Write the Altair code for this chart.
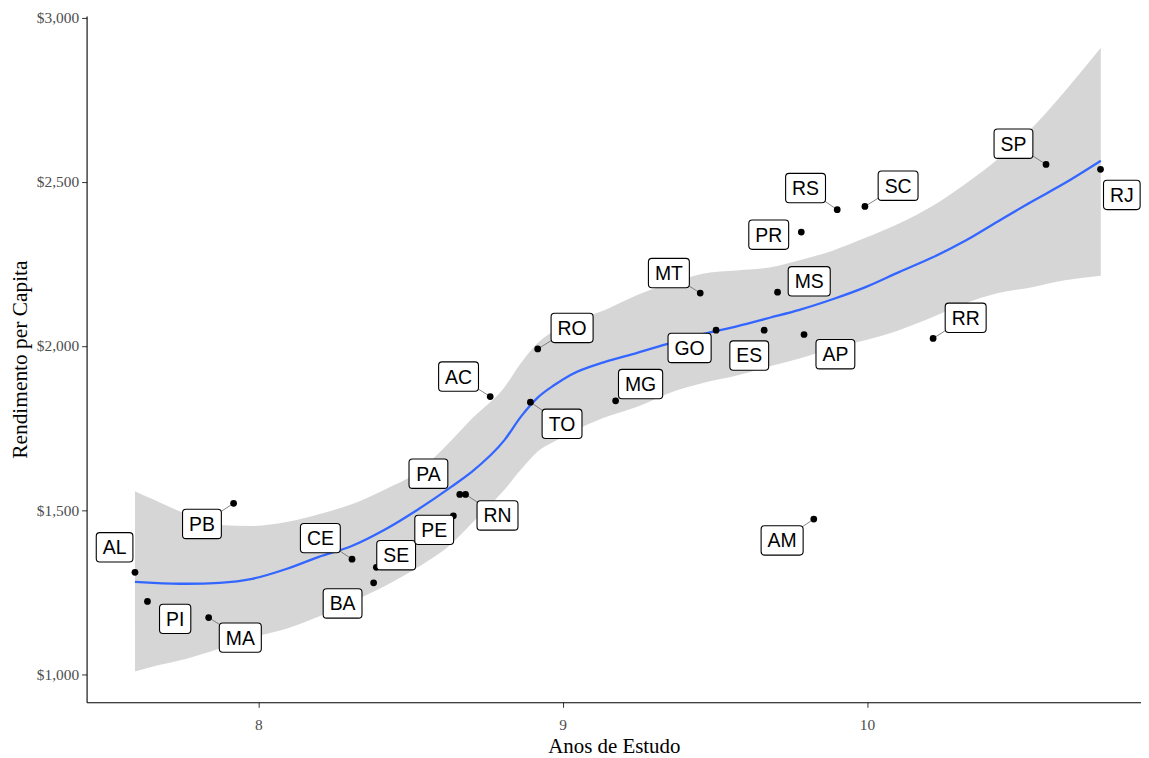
import altair as alt
import pandas as pd

# ---- data ----
states = ["AL", "PI", "MA", "PB", "CE", "BA", "SE", "PE", "PA", "RN", "AC", "TO", "RO",
          "MG", "MT", "GO", "ES", "MS", "AP", "PR", "RS", "SC", "SP", "RJ", "RR", "AM"]
anos = [7.595, 7.636, 7.837, 7.919, 8.308, 8.379, 8.388, 8.641, 8.662, 8.681, 8.762, 8.894, 8.918,
        9.174, 9.452, 9.504, 9.662, 9.706, 9.793, 9.784, 9.902, 9.993, 10.588, 10.767, 10.217, 9.825]
renda = [1311, 1222, 1173, 1521, 1351, 1279, 1326, 1483, 1548, 1548, 1846, 1829, 1991,
         1833, 2161, 2048, 2048, 2164, 2035, 2347, 2415, 2425, 2553, 2538, 2023, 1473]
# repelled label anchors (data units)
label_x = [7.528, 7.727, 7.941, 7.815, 8.204, 8.277, 8.453, 8.578, 8.559, 8.786, 8.658, 8.998, 9.031,
           9.256, 9.349, 9.417, 9.613, 9.810, 9.896, 9.677, 9.798, 10.102, 10.481, 10.837, 10.324, 9.721]
label_y = [1387, 1169, 1112, 1458, 1415, 1216, 1363, 1440, 1611, 1484, 1907, 1763, 2055,
           1884, 2222, 1994, 1971, 2197, 1975, 2339, 2481, 2488, 2616, 2460, 2086, 1408]
with_segment = ["PB", "MA", "CE", "RN", "AC", "TO", "RO", "MT", "RS", "SC", "SP", "RR", "AM"]

# loess fit and confidence band
fit_x = [7.595, 7.654, 7.765, 7.873, 7.980, 8.092, 8.199, 8.307, 8.418, 8.526, 8.634, 8.699, 8.810,
         8.863, 8.918, 8.974, 9.026, 9.137, 9.245, 9.353, 9.464, 9.572, 9.680, 9.778, 9.889, 9.997,
         10.105, 10.216, 10.324, 10.431, 10.542, 10.650, 10.768]
fit_y = [1282, 1279, 1276, 1279, 1291, 1321, 1358, 1391, 1442, 1503, 1571, 1615, 1715,
         1785, 1843, 1882, 1912, 1951, 1979, 2009, 2037, 2060, 2086, 2110, 2143, 2180,
         2225, 2270, 2321, 2380, 2440, 2496, 2564]
fit_hi = [1558, 1533, 1488, 1455, 1452, 1464, 1488, 1518, 1564, 1618, 1712, 1776, 1876,
          1948, 2009, 2048, 2073, 2109, 2155, 2191, 2221, 2230, 2239, 2261, 2291, 2330,
          2373, 2427, 2494, 2570, 2664, 2776, 2908]
fit_lo = [1009, 1024, 1048, 1079, 1112, 1139, 1176, 1221, 1270, 1327, 1397, 1458, 1564,
          1624, 1679, 1710, 1736, 1782, 1815, 1858, 1888, 1910, 1938, 1962, 1994, 2018,
          2048, 2088, 2130, 2161, 2179, 2200, 2214]

x_ticks = [8, 9, 10]
y_ticks = [1000, 1500, 2000, 2500, 3000]

# ---- styling helpers ----
FONT_SIZE = 19.5
CHAR_W = {"A": .667, "B": .667, "C": .722, "D": .722, "E": .667, "G": .778, "I": .278,
          "J": .5, "L": .556, "M": .833, "N": .722, "O": .778, "P": .667, "R": .722,
          "S": .667, "T": .611}
BOX_SIZE = 1600  # symbol size -> path unit = sqrt(size)/2 px
UNIT = BOX_SIZE ** 0.5 / 2


def box_path(text):
    w = sum(CHAR_W.get(c, .667) for c in text) * FONT_SIZE + 13
    h = 29.5
    W, H, R = w / 2 / UNIT, h / 2 / UNIT, 3.5 / UNIT
    f = lambda v: f"{v:.4f}"
    return (f"M{f(-W+R)},{f(-H)}L{f(W-R)},{f(-H)}Q{f(W)},{f(-H)} {f(W)},{f(-H+R)}"
            f"L{f(W)},{f(H-R)}Q{f(W)},{f(H)} {f(W-R)},{f(H)}"
            f"L{f(-W+R)},{f(H)}Q{f(-W)},{f(H)} {f(-W)},{f(H-R)}"
            f"L{f(-W)},{f(-H+R)}Q{f(-W)},{f(-H)} {f(-W+R)},{f(-H)}Z")


pts = pd.DataFrame({"uf": states, "anos": anos, "renda": renda, "lx": label_x, "ly": label_y})
pts["seg"] = pts["uf"].isin(with_segment)
fit = pd.DataFrame({"x": fit_x, "y": fit_y, "hi": fit_hi, "lo": fit_lo})

xs = alt.Scale(domain=[7.436, 10.9], nice=False, zero=False)
ys = alt.Scale(domain=[915, 3005], nice=False, zero=False)

x_axis = alt.Axis(values=x_ticks, format="d", grid=False, title="Anos de Estudo",
                  domainColor="black", domainWidth=1.1, tickColor="#333333", tickSize=5,
                  labelFont="Liberation Serif", labelFontSize=15.5, labelColor="#4D4D4D",
                  labelPadding=10, titleFont="Liberation Serif", titleFontSize=21,
                  titleFontWeight="normal", titleColor="black", titlePadding=3)
y_axis = alt.Axis(values=y_ticks, format="$,.0f", grid=False, title="Rendimento per Capita",
                  domainColor="black", domainWidth=1.1, tickColor="#333333", tickSize=5,
                  labelFont="Liberation Serif", labelFontSize=15.5, labelColor="#4D4D4D",
                  labelPadding=3, titleFont="Liberation Serif", titleFontSize=21.5,
                  titleFontWeight="normal", titleColor="black", titlePadding=5)

X = lambda f: alt.X(f, scale=xs, axis=x_axis, title="Anos de Estudo")
Y = lambda f: alt.Y(f, scale=ys, axis=y_axis, title="Rendimento per Capita")

band = alt.Chart(fit).mark_area(color="#999999", opacity=0.4, interpolate="monotone").encode(
    x=X("x:Q"), y=Y("lo:Q"), y2="hi:Q",
)
line = alt.Chart(fit).mark_line(color="#3366FF", strokeWidth=2.3, interpolate="monotone").encode(
    x=X("x:Q"), y=Y("y:Q")
)
segs = alt.Chart(pts).transform_filter("datum.seg").mark_rule(color="#666666", strokeWidth=0.8).encode(
    x=X("anos:Q"), y=Y("renda:Q"), x2="lx:Q", y2="ly:Q"
)
dots = alt.Chart(pts).mark_circle(color="black", size=46, opacity=1).encode(
    x=X("anos:Q"), y=Y("renda:Q")
)
boxes = alt.Chart(pts).mark_point(filled=True, fill="white", stroke="black", strokeWidth=1.1,
                                  opacity=1, size=BOX_SIZE).encode(
    x=X("lx:Q"), y=Y("ly:Q"),
    shape=alt.Shape("uf:N", scale=alt.Scale(domain=states, range=[box_path(s) for s in states]),
                    legend=None),
)
texts = alt.Chart(pts).mark_text(font="Liberation Sans", fontSize=FONT_SIZE, color="black",
                                 baseline="middle", align="center", dy=1).encode(
    x=X("lx:Q"), y=Y("ly:Q"), text="uf:N"
)

chart = (
    alt.layer(band, line, segs, dots, boxes, texts)
    .properties(
        width=1060, height=690,
        autosize=alt.AutoSizeParams(type="none"),
        padding={"left": 79, "top": 6, "right": 0, "bottom": 56},
    )
    .configure(background="white")
    .configure_view(stroke=None, strokeWidth=0)
    .configure_axis(grid=False)
)

chart.save("out.html", embed_options={"renderer": "svg", "actions": False})
